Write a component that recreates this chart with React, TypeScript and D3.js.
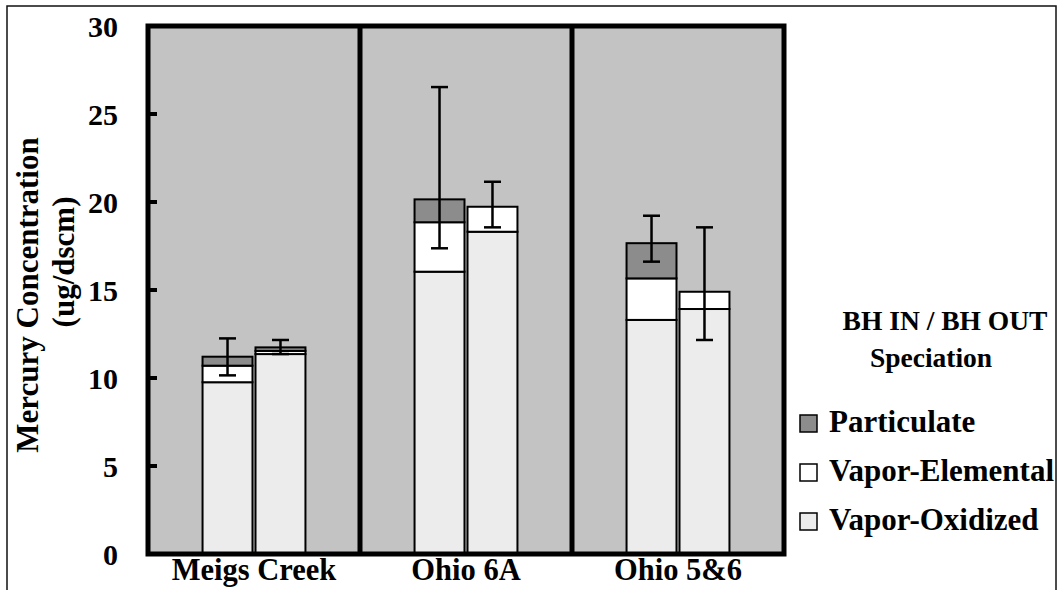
import React from 'react';
import * as d3 from 'd3';

// stations and the two sampling points per station
const categories = ['Meigs Creek', 'Ohio 6A', 'Ohio 5&6'];
const positions = ['BH IN', 'BH OUT'];

// speciation (ug/dscm), index = station
const oxidizedIn = [9.76, 16.04, 13.3];
const oxidizedOut = [11.36, 18.31, 13.92];
const elementalIn = [0.94, 2.81, 2.36];
const elementalOut = [0.18, 1.42, 0.98];
const particulateIn = [0.51, 1.3, 2.0];
const particulateOut = [0.2, 0, 0];

// error bar ends (ug/dscm)
const errHighIn = [12.25, 26.53, 19.22];
const errLowIn = [10.15, 17.37, 16.61];
const errHighOut = [12.16, 21.15, 18.56];
const errLowOut = [11.36, 18.56, 12.16];

const yTicks = [0, 5, 10, 15, 20, 25, 30];
const legendItems = ['Particulate', 'Vapor-Elemental', 'Vapor-Oxidized'];

const W = 1058;
const H = 590;
const font = '"Liberation Serif", "Times New Roman", serif';
const colors = {
  Particulate: '#8c8c8c',
  'Vapor-Elemental': '#ffffff',
  'Vapor-Oxidized': '#ececec',
};

export default function App() {
  const left = 148, right = 784, top = 26, bottom = 554;

  const x = d3.scaleBand().domain(categories).range([left, right]).padding(0);
  const xi = d3.scaleBand().domain(positions).range([0, x.bandwidth()])
    .paddingInner(0.057).paddingOuter(1.03);
  const y = d3.scaleLinear().domain([0, 30]).range([bottom, top]);

  const rows = categories.flatMap((c, i) => [
    { cat: c, pos: 'BH IN', ox: oxidizedIn[i], el: elementalIn[i], pa: particulateIn[i], hi: errHighIn[i], lo: errLowIn[i] },
    { cat: c, pos: 'BH OUT', ox: oxidizedOut[i], el: elementalOut[i], pa: particulateOut[i], hi: errHighOut[i], lo: errLowOut[i] },
  ]);

  const stack = d3.stack<any>()
    .keys(['ox', 'el', 'pa'])(rows);
  const keyColor: any = { ox: colors['Vapor-Oxidized'], el: colors['Vapor-Elemental'], pa: colors.Particulate };

  const capW = 17;

  return (
    <svg width={W} height={H} style={{ position: 'absolute', left: 0, top: 0 }} fontFamily={font} fontWeight="bold">
      <rect x={0} y={0} width={W} height={H} fill="#fff" />
      <rect x={7} y={6} width={1049} height={600} fill="none" stroke="#111" strokeWidth={1.5} />
      <rect x={left} y={top} width={right - left} height={bottom - top} fill="#c3c3c3" />

      {stack.map(layer => (
        <g key={layer.key}>
          {layer.filter(d => d[1] - d[0] > 0).map((d, j) => {
            const r = d.data;
            const bx = (x(r.cat) as number) + (xi(r.pos) as number);
            return (
              <rect key={j} x={bx} y={y(d[1])} width={xi.bandwidth()} height={y(d[0]) - y(d[1])}
                fill={keyColor[layer.key]} stroke="#000" strokeWidth={2} />
            );
          })}
        </g>
      ))}

      {rows.map((r, j) => {
        const cx = (x(r.cat) as number) + (xi(r.pos) as number) + xi.bandwidth() / 2;
        return (
          <g key={j} stroke="#000" strokeWidth={2.5}>
            <line x1={cx} x2={cx} y1={y(r.hi)} y2={y(r.lo)} />
            <line x1={cx - capW / 2} x2={cx + capW / 2} y1={y(r.hi)} y2={y(r.hi)} />
            <line x1={cx - capW / 2} x2={cx + capW / 2} y1={y(r.lo)} y2={y(r.lo)} />
          </g>
        );
      })}

      {/* frame and dividers */}
      <rect x={left} y={top} width={right - left} height={bottom - top} fill="none" stroke="#000" strokeWidth={5} />
      {categories.slice(1).map(c => (
        <line key={c} x1={x(c)} x2={x(c)} y1={top} y2={bottom} stroke="#000" strokeWidth={5} />
      ))}

      {yTicks.map(t => (
        <g key={t}>
          <line x1={left} x2={left + 9} y1={y(t)} y2={y(t)} stroke="#000" strokeWidth={4} />
          <text x={118} y={y(t)} dy="0.36em" textAnchor="end" fontSize={30}>{t}</text>
        </g>
      ))}

      {categories.map(c => (
        <text key={c} x={(x(c) as number) + x.bandwidth() / 2} y={580} textAnchor="middle" fontSize={30.5}>{c}</text>
      ))}

      <text transform="translate(38,295) rotate(-90)" textAnchor="middle" fontSize={31}>Mercury Concentration</text>
      <text transform="translate(74,262) rotate(-90)" textAnchor="middle" fontSize={31}>(ug/dscm)</text>

      <text x={945} y={330} textAnchor="middle" fontSize={27.5}>BH IN / BH OUT</text>
      <text x={931} y={367} textAnchor="middle" fontSize={27.5}>Speciation</text>

      {legendItems.map((k, i) => (
        <g key={k} transform={`translate(800,${415 + i * 49})`}>
          <rect x={0} y={0} width={17} height={17} fill={(colors as any)[k]} stroke="#000" strokeWidth={1.5} />
          <text x={29} y={17} fontSize={31}>{k}</text>
        </g>
      ))}
    </svg>
  );
}
